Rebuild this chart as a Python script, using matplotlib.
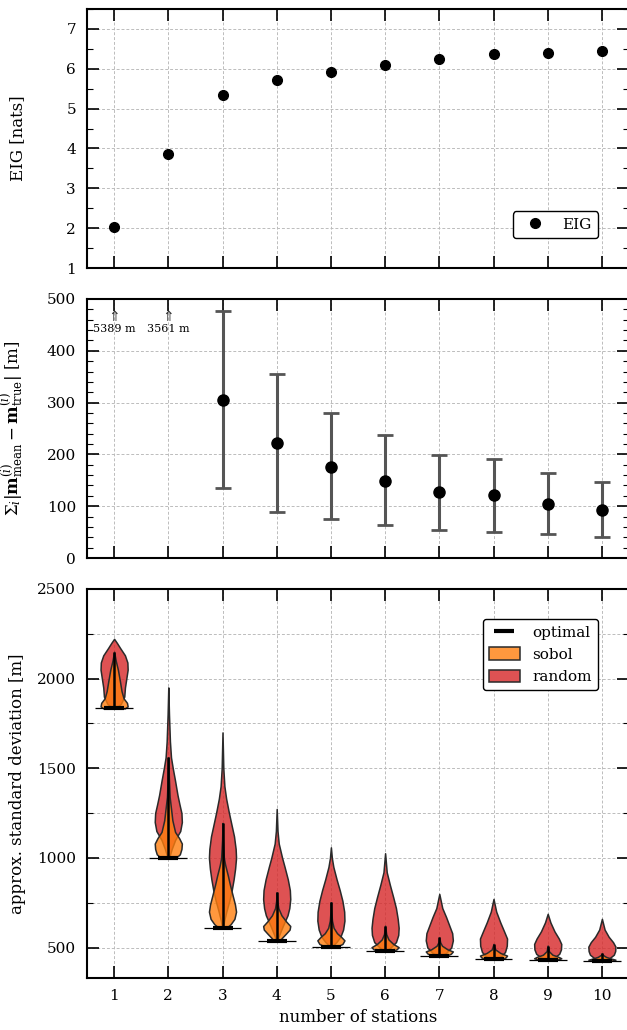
import matplotlib.pyplot as plt
import numpy as np
from matplotlib.ticker import MultipleLocator, NullLocator

plt.rcParams['font.family'] = ['DejaVu Serif', 'DejaVu Sans']
plt.rcParams['mathtext.fontset'] = 'dejavuserif'
plt.rcParams['font.size'] = 11

stations = np.arange(1, 11)

# expected information gain
eig = [2.04, 3.87, 5.34, 5.73, 5.92, 6.09, 6.25, 6.37, 6.39, 6.45]

# error of posterior mean (stations 3..10), off-scale values for 1 and 2
err_stations = stations[2:]
err_mean = [305, 222, 176, 149, 127, 122, 104, 93]
err_low = [135, 89, 75, 64, 55, 51, 46, 40]
err_high = [476, 356, 280, 237, 198, 192, 164, 146]
off_stations = [1, 2]
off_values = [5389, 3561]

# approx. standard deviation
optimal = [1834, 1000, 611, 537, 505, 480, 454, 435, 433, 426]

random_levels = [
    [1834, 1860, 1900, 1950, 2000, 2050, 2090, 2130, 2170, 2200, 2222],
    [1000, 1050, 1100, 1150, 1200, 1250, 1300, 1350, 1430, 1500, 1560, 1650, 1800, 1951],
    [611, 650, 700, 760, 820, 880, 940, 1000, 1050, 1120, 1200, 1260, 1330, 1400, 1500, 1700],
    [537, 570, 620, 680, 720, 770, 820, 880, 950, 1000, 1080, 1150, 1273],
    [505, 530, 560, 600, 650, 700, 760, 820, 880, 950, 1000, 1059],
    [480, 500, 530, 570, 610, 660, 720, 780, 850, 920, 1026],
    [454, 470, 500, 540, 580, 620, 670, 720, 799],
    [435, 450, 475, 510, 550, 590, 640, 700, 771],
    [433, 445, 465, 490, 520, 550, 590, 640, 688],
    [426, 440, 460, 480, 505, 530, 560, 600, 660],
]
random_widths = [
    [0.1, 0.5, 0.75, 0.8, 0.9, 1.0, 0.98, 0.8, 0.45, 0.2, 0.0],
    [0.05, 0.25, 0.5, 0.88, 1.0, 0.97, 0.82, 0.68, 0.5, 0.33, 0.2, 0.12, 0.05, 0.0],
    [0.03, 0.12, 0.28, 0.5, 0.68, 0.82, 0.93, 1.0, 0.97, 0.85, 0.62, 0.45, 0.27, 0.14, 0.06, 0.0],
    [0.03, 0.18, 0.45, 0.8, 0.93, 1.0, 0.97, 0.82, 0.58, 0.4, 0.15, 0.06, 0.0],
    [0.05, 0.4, 0.7, 0.9, 1.0, 0.98, 0.85, 0.65, 0.42, 0.18, 0.07, 0.0],
    [0.05, 0.4, 0.8, 0.97, 1.0, 0.93, 0.8, 0.6, 0.35, 0.12, 0.0],
    [0.1, 0.5, 0.88, 1.0, 0.95, 0.75, 0.5, 0.22, 0.0],
    [0.1, 0.55, 0.85, 0.98, 1.0, 0.78, 0.5, 0.2, 0.0],
    [0.1, 0.5, 0.85, 0.98, 1.0, 0.82, 0.5, 0.2, 0.0],
    [0.1, 0.55, 0.88, 0.98, 1.0, 0.82, 0.5, 0.2, 0.0],
]

sobol_levels = [
    [1834, 1845, 1865, 1890, 1930, 1990, 2050, 2100, 2150],
    [1000, 1020, 1050, 1080, 1110, 1145, 1210, 1340, 1450, 1561],
    [611, 630, 660, 700, 740, 790, 850, 900, 960, 1000, 1100, 1195],
    [537, 555, 575, 600, 620, 645, 680, 720, 760, 808],
    [505, 520, 540, 560, 580, 610, 650, 700, 753],
    [480, 490, 502, 520, 545, 575, 622],
    [454, 465, 478, 490, 510, 530, 557],
    [435, 445, 455, 470, 490, 520],
    [433, 440, 448, 460, 480, 511],
    [426, 432, 438, 448, 460, 468],
]
sobol_widths = [
    [0.8, 1.0, 0.95, 0.7, 0.55, 0.42, 0.28, 0.12, 0.0],
    [0.55, 0.85, 0.97, 1.0, 0.8, 0.5, 0.3, 0.1, 0.04, 0.0],
    [0.3, 0.6, 0.88, 1.0, 0.92, 0.75, 0.55, 0.4, 0.2, 0.1, 0.03, 0.0],
    [0.2, 0.4, 0.65, 0.95, 1.0, 0.7, 0.35, 0.12, 0.04, 0.0],
    [0.45, 0.85, 1.0, 0.75, 0.45, 0.2, 0.08, 0.03, 0.0],
    [0.5, 0.85, 1.0, 0.6, 0.25, 0.08, 0.0],
    [0.5, 0.85, 1.0, 0.6, 0.2, 0.06, 0.0],
    [0.6, 0.9, 1.0, 0.5, 0.12, 0.0],
    [0.7, 1.0, 0.8, 0.35, 0.08, 0.0],
    [0.7, 1.0, 0.7, 0.3, 0.05, 0.0],
]


def vp_stats(levels, widths):
    levels = np.array(levels, float)
    return dict(coords=levels, vals=np.array(widths, float),
                mean=np.mean(levels), median=np.median(levels),
                min=levels[0], max=levels[-1])


W, H = 627, 1030
fig = plt.figure(figsize=(W / 100, H / 100), dpi=100)
left, width = 87 / W, 542 / W
ax1 = fig.add_axes([left, (H - 268) / H, width, 259 / H])
ax2 = fig.add_axes([left, (H - 558) / H, width, 259 / H])
ax3 = fig.add_axes([left, (H - 978) / H, width, 389 / H])

grid_kw = dict(color='#bcbcbc', linestyle=(0, (3, 2)), linewidth=0.7)

for ax in (ax1, ax2, ax3):
    ax.set_xlim(0.5, 10.5)
    ax.set_xticks(stations)
    ax.xaxis.set_minor_locator(NullLocator())
    ax.tick_params(which='both', direction='in', top=True, right=True)
    ax.tick_params(which='major', length=8.5, width=1.2, pad=8, labelsize=11)
    ax.tick_params(which='minor', length=4, width=0.8)
    for s in ax.spines.values():
        s.set_linewidth(1.5)
    ax.set_axisbelow(True)
    ax.xaxis.grid(True, which='major', **grid_kw)
    ax.yaxis.grid(True, which='major', **grid_kw)

ax1.tick_params(labelbottom=False)
ax2.tick_params(labelbottom=False)

# panel 1: EIG
ax1.plot(stations, eig, 'o', color='k', markersize=7, label='EIG')
ax1.set_ylim(1, 7.5)
ax1.yaxis.set_major_locator(MultipleLocator(1))
ax1.yaxis.set_minor_locator(MultipleLocator(0.5))
ax1.set_ylabel('EIG [nats]', fontsize=12)
ax1.legend(loc='lower right', bbox_to_anchor=(0.942, 0.117), borderaxespad=0,
           frameon=True, framealpha=1, edgecolor='k', fontsize=11)

# panel 2: error of posterior mean
m = np.array(err_mean)
yerr = [m - np.array(err_low), np.array(err_high) - m]
ax2.errorbar(err_stations, err_mean, yerr=yerr, fmt='o', color='k',
             markersize=8, ecolor='#555555', elinewidth=2.2, capsize=6,
             capthick=2)
ax2.set_ylim(0, 500)
ax2.yaxis.set_major_locator(MultipleLocator(100))
ax2.yaxis.set_minor_locator(MultipleLocator(20))
for xs, v in zip(off_stations, off_values):
    ax2.text(xs, 466, '\u21d1', ha='center', va='center', fontsize=10,
             family=['DejaVu Sans'], color='#333333')
    ax2.text(xs, 443, f'{v} m', ha='center', va='center', fontsize=8)
ax2.set_ylabel(r'$\Sigma_i|\mathbf{m}_{\mathrm{mean}}^{(i)}'
               r' - \mathbf{m}_{\mathrm{true}}^{(i)}|$ [m]', fontsize=12)

# panel 3: violins
rnd = ax3.violin([vp_stats(l, w) for l, w in zip(random_levels, random_widths)],
                 positions=stations, widths=0.5, showextrema=False)
for b in rnd['bodies']:
    b.set_alpha(None)
    b.set_facecolor((0.839, 0.153, 0.157, 0.8))
    b.set_edgecolor('#2a2a2a')
    b.set_linewidth(1.1)
sob = ax3.violin([vp_stats(l, w) for l, w in zip(sobol_levels, sobol_widths)],
                 positions=stations, widths=0.5, showextrema=False)
for b in sob['bodies']:
    b.set_alpha(None)
    b.set_facecolor((1.0, 0.498, 0.055, 0.8))
    b.set_edgecolor('#2a2a2a')
    b.set_linewidth(1.1)
ax3.vlines(stations, optimal, [l[-1] for l in sobol_levels], color='k',
           linewidth=1.8, zorder=3)
ax3.hlines(optimal, stations - 0.35, stations + 0.35, color='k', linewidth=0.9,
           zorder=3)
opt_line, = ax3.plot(stations, optimal, linestyle='none', marker='_',
                     markersize=14, markeredgewidth=3, color='k', zorder=4,
                     label='optimal')
ax3.set_ylim(330, 2500)
ax3.yaxis.set_major_locator(MultipleLocator(500))
ax3.yaxis.set_minor_locator(MultipleLocator(250))
ax3.yaxis.grid(True, which='minor', **grid_kw)
ax3.set_ylabel('approx. standard deviation [m]', fontsize=12)
ax3.set_xlabel('number of stations', fontsize=12)
ax3.legend([opt_line, sob['bodies'][0], rnd['bodies'][0]],
           ['optimal', 'sobol', 'random'],
           loc='upper right', bbox_to_anchor=(0.942, 0.923), borderaxespad=0,
           frameon=True, framealpha=1, edgecolor='k', fontsize=11,
           handleheight=0.9)

for ax in (ax1, ax2, ax3):
    ax.yaxis.set_label_coords(-0.113, 0.5)

fig.savefig('out.png', dpi=100)
